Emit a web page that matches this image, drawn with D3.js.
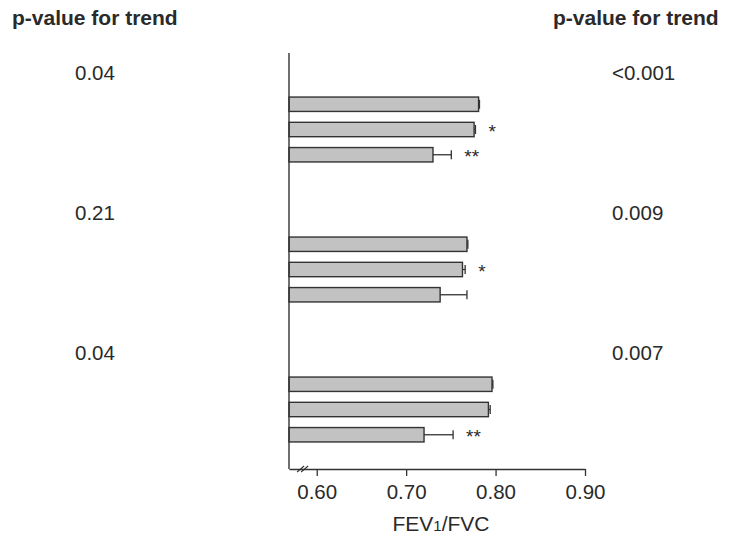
<!DOCTYPE html>
<html>
<head>
<meta charset="utf-8">
<script src="https://cdn.jsdelivr.net/npm/d3@7"></script>
<style>
  html, body { margin: 0; padding: 0; background: #fff; }
  svg { display: block; font-family: "Liberation Sans", Arial, Helvetica, sans-serif; }
</style>
</head>
<body>
<svg id="chart" width="735" height="537"></svg>
<script>
// Groups (top to bottom) and the three levels drawn inside each group
const groups = ["g1", "g2", "g3"];
const levels = ["low", "mid", "high"];

// Mean FEV1/FVC per group and level
const meanValues = [
  [0.781, 0.776, 0.730],
  [0.768, 0.763, 0.738],
  [0.796, 0.792, 0.720]
];
// Upper end of the error bar (mean + SE)
const upperValues = [
  [0.782, 0.7775, 0.7505],
  [0.769, 0.766, 0.768],
  [0.797, 0.794, 0.7525]
];
// Significance markers beside each bar
const markers = [
  ["", "*", "**"],
  ["", "*", ""],
  ["", "", "**"]
];
// p-values for trend, left and right columns
const pLeft = ["0.04", "0.21", "0.04"];
const pRight = ["<0.001", "0.009", "0.007"];
const pHeader = "p-value for trend";

const xTicks = [0.60, 0.70, 0.80, 0.90];
const xDomain = [0.569, 0.90];

const ink = "#2a2a2a";
const barFill = "#c2c2c2";
const barStroke = "#333333";
const fontSize = 20.5;

const svg = d3.select("#chart");

const axisX0 = 289, axisX1 = 585;
const axisTop = 53, axisBottom = 469;

const x = d3.scaleLinear().domain(xDomain).range([axisX0, axisX1]);

// Center of each group (middle bar)
const groupY = d3.scalePoint().domain(groups).range([129.5, 409.5]);
// Bars within a group, relative to the group center
const barY = d3.scaleBand().domain(levels).range([-37.5, 37.5]).paddingInner(0.43).paddingOuter(0.2);

const rows = [];
groups.forEach((g, gi) => {
  levels.forEach((l, li) => {
    rows.push({ g, l, v: meanValues[gi][li], hi: upperValues[gi][li], mark: markers[gi][li] });
  });
});

const bh = barY.bandwidth();

// Bars
svg.append("g").selectAll("rect")
  .data(rows)
  .join("rect")
  .attr("x", x(xDomain[0]))
  .attr("y", d => groupY(d.g) + barY(d.l))
  .attr("width", d => x(d.v) - x(xDomain[0]))
  .attr("height", bh)
  .attr("fill", barFill)
  .attr("stroke", barStroke)
  .attr("stroke-width", 1.4);

// Error bars
const eb = svg.append("g").attr("stroke", barStroke).attr("stroke-width", 1.3);
eb.selectAll("line.stem")
  .data(rows)
  .join("line")
  .attr("class", "stem")
  .attr("x1", d => x(d.v))
  .attr("x2", d => x(d.hi))
  .attr("y1", d => groupY(d.g) + barY(d.l) + bh / 2)
  .attr("y2", d => groupY(d.g) + barY(d.l) + bh / 2);
eb.selectAll("line.cap")
  .data(rows)
  .join("line")
  .attr("class", "cap")
  .attr("x1", d => x(d.hi))
  .attr("x2", d => x(d.hi))
  .attr("y1", d => groupY(d.g) + barY(d.l) + bh / 2 - 4.5)
  .attr("y2", d => groupY(d.g) + barY(d.l) + bh / 2 + 4.5);

// Significance markers
svg.append("g").selectAll("text")
  .data(rows.filter(d => d.mark))
  .join("text")
  .attr("x", d => x(d.hi) + 13)
  .attr("y", d => groupY(d.g) + barY(d.l) + bh / 2 + 8.5)
  .attr("fill", ink)
  .attr("font-size", 19)
  .text(d => d.mark);

// Y axis line
svg.append("line")
  .attr("x1", axisX0).attr("x2", axisX0)
  .attr("y1", axisTop).attr("y2", axisBottom)
  .attr("stroke", barStroke).attr("stroke-width", 1.4);

// X axis
const xAxis = d3.axisBottom(x)
  .tickValues(xTicks)
  .tickFormat(d3.format(".2f"))
  .tickSizeInner(7)
  .tickSizeOuter(0)
  .tickPadding(8);
const ax = svg.append("g")
  .attr("transform", `translate(0,${axisBottom})`)
  .call(xAxis);
ax.select(".domain").attr("stroke", barStroke).attr("stroke-width", 1.4);
ax.selectAll(".tick line").attr("stroke", barStroke).attr("stroke-width", 1.3);
ax.selectAll(".tick text")
  .attr("fill", ink)
  .attr("font-size", fontSize)
  .attr("font-family", "\"Liberation Sans\", Arial, sans-serif");

// Axis break mark
const brk = svg.append("g").attr("stroke", barStroke).attr("stroke-width", 1.1);
[0, 4].forEach(dx => {
  brk.append("line")
    .attr("x1", x(0.582) + dx - 3.5).attr("y1", axisBottom + 3)
    .attr("x2", x(0.582) + dx + 3.5).attr("y2", axisBottom - 3);
});

// X axis title with subscript
const xt = svg.append("text")
  .attr("x", (axisX0 + axisX1) / 2 + 4)
  .attr("y", 531)
  .attr("text-anchor", "middle")
  .attr("fill", ink)
  .attr("font-size", 21);
xt.append("tspan").text("FEV");
xt.append("tspan").attr("font-size", 15).text("1");
xt.append("tspan").text("/FVC");

// Column headers
svg.append("text")
  .attr("x", 12).attr("y", 25)
  .attr("fill", ink).attr("font-size", 21).attr("font-weight", "bold")
  .text(pHeader);
svg.append("text")
  .attr("x", 553).attr("y", 25)
  .attr("fill", ink).attr("font-size", 21).attr("font-weight", "bold")
  .text(pHeader);

// p-values beside each group
svg.append("g").selectAll("text")
  .data(groups)
  .join("text")
  .attr("x", 75)
  .attr("y", g => groupY(g) - 50)
  .attr("fill", ink).attr("font-size", fontSize)
  .text((g, i) => pLeft[i]);
svg.append("g").selectAll("text")
  .data(groups)
  .join("text")
  .attr("x", 612)
  .attr("y", g => groupY(g) - 50)
  .attr("fill", ink).attr("font-size", fontSize)
  .text((g, i) => pRight[i]);
</script>
</body>
</html>
